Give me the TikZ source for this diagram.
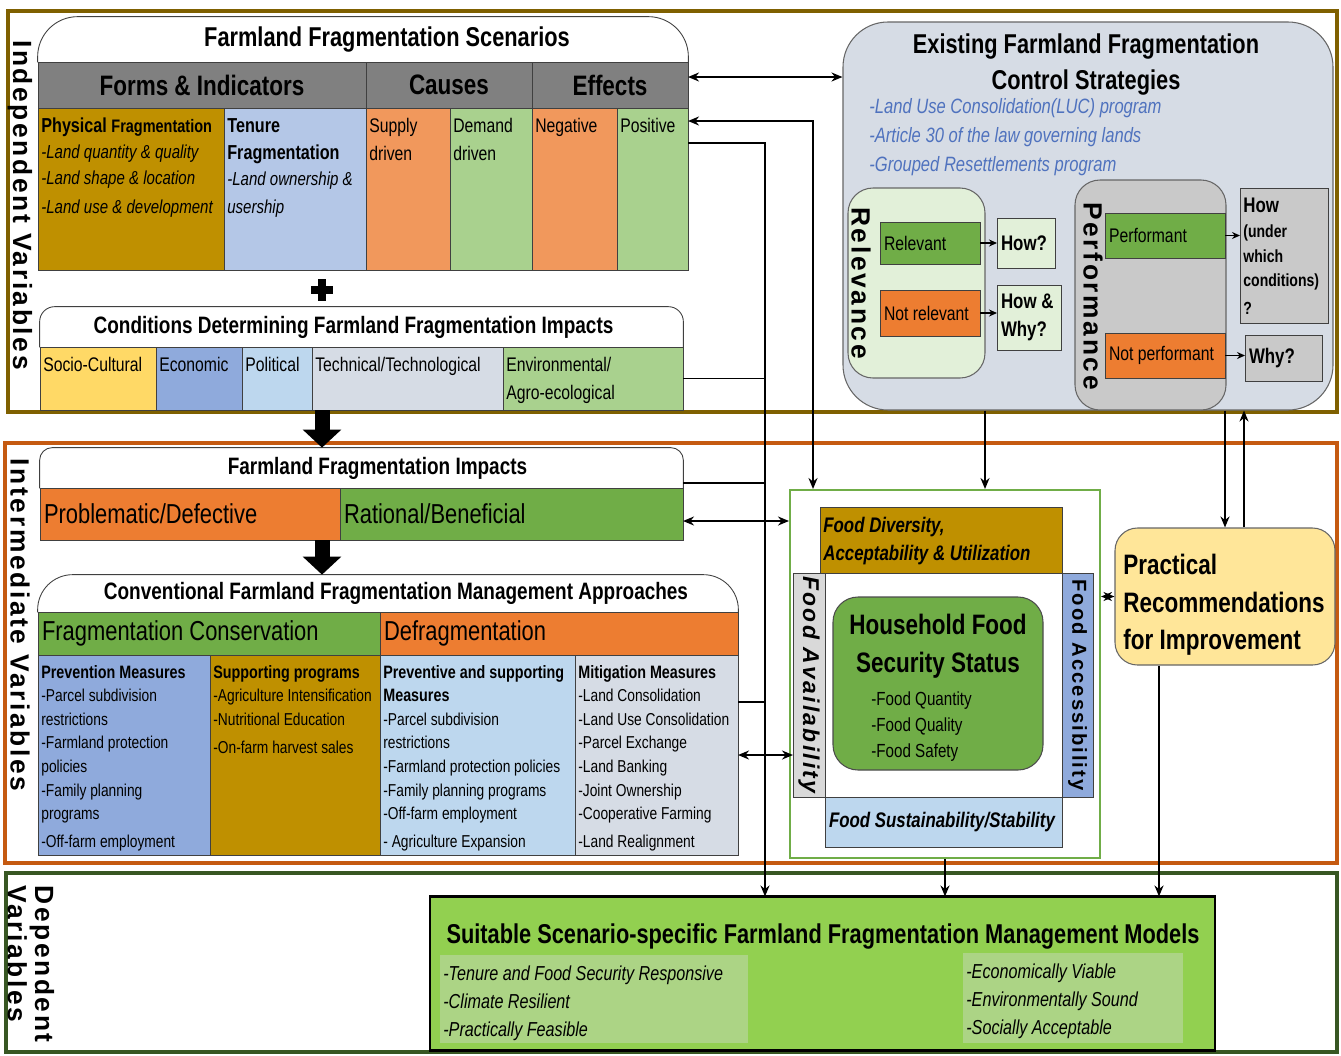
\documentclass[tikz,border=0pt]{standalone}
\usepackage{fontspec}
\setmainfont{Liberation Sans}[FakeStretch=0.8]
\newfontfamily\widefont{Liberation Sans}[LetterSpace=10]
\usetikzlibrary{arrows.meta,calc}
\hyphenpenalty=10000
\exhyphenpenalty=10000

\definecolor{indepc}{RGB}{127,96,0}
\definecolor{interc}{RGB}{197,90,17}
\definecolor{depc}{RGB}{56,87,35}
\definecolor{goldc}{RGB}{191,144,0}
\definecolor{tenurec}{RGB}{180,199,231}
\definecolor{orangec}{RGB}{237,125,49}
\definecolor{lorangec}{RGB}{241,152,92}
\definecolor{greenc}{RGB}{112,173,71}
\definecolor{lgreenc}{RGB}{169,209,142}
\definecolor{grayc}{RGB}{128,128,128}
\definecolor{yellowc}{RGB}{255,217,102}
\definecolor{bluec}{RGB}{143,170,220}
\definecolor{lbluec}{RGB}{189,215,238}
\definecolor{steelc}{RGB}{214,220,229}
\definecolor{palegreenc}{RGB}{226,240,217}
\definecolor{pgrayc}{RGB}{201,201,201}
\definecolor{dgrayc}{RGB}{217,217,217}
\definecolor{peachc}{RGB}{255,230,153}
\definecolor{limec}{RGB}{146,208,80}
\definecolor{panelc}{RGB}{172,212,133}
\definecolor{ctrlblue}{RGB}{79,114,190}

\def\unitpx{0.02cm}
\newlength\cellw
\newcommand{\fsz}[2]{\fontsize{#1}{#2}\selectfont}
% cell with its text centred (or left, with lefttext)
\newcommand{\cellc}[7]{%
 \setlength\cellw{\dimexpr 0.02cm*(#4-8)\relax}%
 \node[cell,#6,minimum width=#4*\unitpx,minimum height=#5*\unitpx] (#1) at ({#2+#4/2},{#3+#5/2}) {#7};%
}
% cell with its text in the top left corner
\newcommand{\cellt}[7]{%
 \setlength\cellw{\dimexpr 0.02cm*(#4-7)\relax}%
 \node[cell,#6,minimum width=#4*\unitpx,minimum height=#5*\unitpx] (#1) at ({#2+#4/2},{#3+#5/2}) {};%
 \node[celltext,text width=\cellw] (#1-t) at (#1.north west) {#7};%
}
% title row with rounded top corners
\newcommand{\titlebox}[8]{%
 \node[minimum width=#4*\unitpx,minimum height=#5*\unitpx,inner sep=0pt] (#1) at ({#2+#4/2},{#3+#5/2}) {};%
 \draw[cellline,rounded corners=#6] (#1.south west) -- (#1.north west) -- (#1.north east) -- (#1.south east);%
 \node[titletext,xshift=#7*\unitpx] (#1-t) at (#1) {#8};%
}

\tikzset{
 cell/.style={draw=black!75, line width=0.5pt, inner sep=0pt, outer sep=0pt, font=\fsz{11.2}{16}},
 cellline/.style={draw=black!75, line width=0.5pt},
 celltext/.style={anchor=north west, align=flush left, inner xsep=0.06cm, inner ysep=0.2cm, font=\fsz{11.2}{16}},
 lefttext/.style={align=flush left, text width=\cellw},
 header/.style={fill=grayc, font=\fsz{16}{19}\bfseries},
 titletext/.style={font=\fsz{13.5}{16}\bfseries, inner sep=0pt},
 frame/.style={line width=0.08cm, inner sep=0pt},
 bandlabel/.style={rotate=-90, inner sep=0pt, font=\widefont\fsz{15}{15.5}\bfseries},
 rotlabel/.style={rotate=-90, inner sep=0pt, font=\widefont\fsz{15}{17}\bfseries},
 roundbox/.style={draw=black!60, line width=0.6pt, inner sep=0pt},
 bus/.style={line width=1.1pt},
 conn/.style={line width=1.1pt, -{Stealth[length=0.22cm,width=0.18cm]}},
 dconn/.style={line width=1.1pt, {Stealth[length=0.22cm,width=0.18cm]}-{Stealth[length=0.22cm,width=0.18cm]}},
 sconn/.style={line width=1pt, -{Stealth[length=0.16cm,width=0.14cm]}},
 fat/.style={line width=0.3cm, -{Triangle[length=0.36cm,width=0.75cm]}},
}

\begin{document}
\begin{tikzpicture}[x=0.02cm,y=-0.02cm]
\fill[white] (0,0) rectangle (1341,1055);
\useasboundingbox (0,0) rectangle (1341,1055);

% variable bands
\node[frame,draw=indepc,minimum width=1329*\unitpx,minimum height=401*\unitpx] (indep) at (672.5,211.5) {};
\node[frame,draw=interc,minimum width=1332*\unitpx,minimum height=420*\unitpx] (inter) at (671,653) {};
\node[frame,draw=depc,minimum width=1331*\unitpx,minimum height=179*\unitpx] (dep) at (671.5,962.5) {};
\node[bandlabel] (indep-l) at (20,205) {Independent Variables};
\node[bandlabel] (inter-l) at (20,625) {Intermediate Variables};
\node[bandlabel,anchor=west,align=left] (dep-l) at (31,885) {Dependent\\Variables};

% scenarios
\titlebox{scen}{38}{17}{650}{45}{0.8cm}{24}{\fsz{15.5}{18}Farmland Fragmentation Scenarios}
\cellc{formsH}{38}{62}{328}{46}{header}{Forms \& Indicators}
\cellc{causesH}{366}{62}{166}{46}{header}{Causes}
\cellc{effectsH}{532}{62}{156}{46}{header}{Effects}
\cellt{phys}{38}{108}{186}{162}{fill=goldc}{{\bfseries\fsz{11.5}{14.8}Physical \fsz{10.3}{14.8}Fragmentation}\\\itshape\fsz{10.7}{14.8}-Land quantity \& quality\\-Land shape \& location\\-Land use \& development}
\cellt{tenure}{224}{108}{142}{162}{fill=tenurec}{\bfseries\fsz{11.5}{15.5}Tenure\\Fragmentation\\\mdseries\itshape\fsz{10.7}{15}-Land ownership \&\\usership}
\cellt{supply}{366}{108}{84}{162}{fill=lorangec}{Supply\\driven}
\cellt{demand}{450}{108}{82}{162}{fill=lgreenc}{Demand\\driven}
\cellt{negative}{532}{108}{85}{162}{fill=lorangec}{Negative}
\cellt{positive}{617}{108}{71}{162}{fill=lgreenc}{Positive}

\coordinate (plus) at (322,290);
\fill ($(plus)+(-11,-4)$) rectangle ($(plus)+(11,4)$);
\fill ($(plus)+(-4,-11)$) rectangle ($(plus)+(4,11)$);

% conditions
\titlebox{cond}{40}{307}{643}{40}{0.3cm}{-8}{Conditions Determining Farmland Fragmentation Impacts}
\cellt{socio}{40}{347}{116}{63}{fill=yellowc}{Socio-Cultural}
\cellt{econ}{156}{347}{86}{63}{fill=bluec}{Economic}
\cellt{polit}{242}{347}{70}{63}{fill=lbluec}{Political}
\cellt{tech}{312}{347}{191}{63}{fill=steelc}{Technical/Technological}
\cellt{env}{503}{347}{180}{63}{fill=lgreenc}{Environmental/\\Agro-ecological}

% impacts
\titlebox{imp}{40}{448}{643}{40}{0.25cm}{16}{Farmland Fragmentation Impacts}
\cellc{problem}{40}{488}{300}{52}{fill=orangec,lefttext,font=\fsz{15.6}{18}}{Problematic/Defective}
\cellc{rational}{340}{488}{343}{52}{fill=greenc,lefttext,font=\fsz{15.6}{18}}{Rational/Beneficial}
\draw[fat] (plus |- socio.south) -- (plus |- imp.north);

% management approaches
\titlebox{conv}{38}{575}{700}{37}{0.7cm}{8}{Conventional Farmland Fragmentation Management Approaches}
\draw[fat] (plus |- problem.south) -- (plus |- conv.north);
\cellc{fragc}{38}{612}{342}{43}{fill=greenc,lefttext,font=\fsz{15.6}{18}}{Fragmentation Conservation}
\cellc{defrag}{380}{612}{358}{43}{fill=orangec,lefttext,font=\fsz{15.6}{18}}{Defragmentation}
\cellt{prev}{38}{655}{172}{200}{fill=bluec}{\fsz{9.8}{13.4}{\bfseries\fsz{10.2}{13.4}Prevention Measures}\\-Parcel subdivision\\restrictions\\-Farmland protection\\policies\\-Family planning\\programs\\-Off-farm employment}
\cellt{supp}{210}{655}{170}{200}{fill=goldc}{\fsz{9.8}{13.4}{\bfseries\fsz{10.2}{13.4}Supporting programs}\\-Agriculture Intensification\\-Nutritional Education\\-On-farm harvest sales}
\cellt{prevsup}{380}{655}{195}{200}{fill=lbluec}{\fsz{9.8}{13.4}{\bfseries\fsz{10.2}{13.4}Preventive and supporting\\Measures}\\-Parcel subdivision\\restrictions\\-Farmland protection policies\\-Family planning programs\\-Off-farm employment\\- Agriculture Expansion}
\cellt{mitig}{575}{655}{163}{200}{fill=steelc}{\fsz{9.8}{13.4}{\bfseries\fsz{10.2}{13.4}Mitigation Measures}\\-Land Consolidation\\-Land Use Consolidation\\-Parcel Exchange\\-Land Banking\\-Joint Ownership\\-Cooperative Farming\\-Land Realignment}

% control strategies
\node[roundbox,fill=steelc,rounded corners=0.9cm,minimum width=490*\unitpx,minimum height=388*\unitpx] (ctrl) at (1088,216) {};
\node[font=\fsz{15.5}{20.5}\bfseries,align=center] (ctrl-t) at (1086,65) {Existing Farmland Fragmentation\\Control Strategies};
\node[anchor=north west,font=\fsz{11.8}{16.5}\itshape,text=ctrlblue,align=left,inner sep=0pt] (ctrl-l) at (869,98) {-Land Use Consolidation(LUC) program\\-Article 30 of the law governing lands\\-Grouped Resettlements program};
\node[roundbox,fill=palegreenc,rounded corners=0.5cm,minimum width=137*\unitpx,minimum height=190*\unitpx] (rel) at (916.5,283) {};
\node[rotlabel] (rel-l) at (861,283) {Relevance};
\cellc{relv}{880}{222}{100}{42}{fill=greenc,lefttext}{Relevant}
\cellc{notrel}{880}{290}{100}{46}{fill=orangec,lefttext}{Not relevant}
\cellc{how1}{997}{218}{58}{50}{fill=palegreenc,lefttext,font=\fsz{12}{16}\bfseries}{How?}
\cellc{how2}{997}{285}{64}{65}{fill=palegreenc,lefttext,font=\fsz{12}{16}\bfseries}{How \&\\Why?}
\node[roundbox,fill=pgrayc,rounded corners=0.5cm,minimum width=151*\unitpx,minimum height=230*\unitpx] (perf) at (1150.5,295) {};
\node[rotlabel] (perf-l) at (1093,296) {Performance};
\cellc{perfm}{1105}{213}{120}{45}{fill=greenc,lefttext}{Performant}
\cellc{notperf}{1105}{333}{120}{45}{fill=orangec,lefttext}{Not performant}
\cellt{howc}{1240}{188}{88}{135}{fill=pgrayc}{\bfseries\fsz{12}{14}How\\\fsz{10}{14}(under\\which\\conditions)\\?}
\cellc{why}{1245}{335}{77}{46}{fill=pgrayc,lefttext,font=\fsz{12}{16}\bfseries}{Why?}
\draw[sconn] (relv.east) -- (how1.west |- relv.east);
\draw[sconn] (notrel.east) -- (how2.west |- notrel.east);
\draw[sconn] (perfm.east) -- (howc.west |- perfm.east);
\draw[sconn] (notperf.east) -- (why.west |- notperf.east);

% household food security
\node[draw=greenc,line width=0.04cm,fill=white,minimum width=310*\unitpx,minimum height=368*\unitpx,inner sep=0pt] (fsbox) at (945,674) {};
\cellt{fdiv}{820}{507}{242}{66}{fill=goldc}{\bfseries\itshape\fsz{12}{16}Food Diversity,\\Acceptability \& Utilization}
\cellc{favail}{793}{573}{32}{224}{fill=dgrayc}{}
\node[rotlabel,font=\widefont\fsz{13}{15}\bfseries\itshape] (favail-t) at (favail) {Food Availability};
\cellc{fcore}{825}{573}{237}{224}{fill=white}{}
\cellc{faccess}{1062}{573}{31}{224}{fill=bluec}{}
\node[rotlabel,font=\widefont\fsz{11.5}{14}\bfseries] (faccess-t) at (faccess) {Food Accessibility};
\cellc{fsust}{825}{797}{237}{50}{fill=lbluec,lefttext,font=\fsz{12}{15}\bfseries\itshape}{Food Sustainability/Stability}
\node[roundbox,fill=greenc,draw=black!70,rounded corners=0.5cm,minimum width=210*\unitpx,minimum height=173*\unitpx] (hfss) at (938,683.5) {};
\node[font=\fsz{16}{21.6}\bfseries,align=center] (hfss-t) at (938,646) {Household Food\\Security Status};
\node[anchor=north west,font=\fsz{10.8}{15},align=left,inner sep=0pt] (hfss-l) at (871,691) {-Food Quantity\\-Food Quality\\-Food Safety};

% recommendations
\node[roundbox,fill=peachc,rounded corners=0.45cm,minimum width=220*\unitpx,minimum height=137*\unitpx] (prac) at (1225,596.5) {};
\node[anchor=west,font=\fsz{16}{21.3}\bfseries,align=left,inner sep=0pt] (prac-t) at (1123,605) {Practical\\Recommendations\\for Improvement};

% management models
\node[draw=black,line width=0.6pt,fill=limec,minimum width=785*\unitpx,minimum height=153*\unitpx,inner sep=0pt] (suit) at (822.5,973.5) {};
\draw[line width=0.06cm] (suit.north west) -- (suit.north east);
\draw[line width=0.06cm] (suit.south west) -- (suit.south east);
\node[font=\fsz{15.5}{18}\bfseries] (suit-t) at (823,937) {Suitable Scenario-specific Farmland Fragmentation Management Models};
\cellt{suitL}{440}{955}{308}{88}{fill=panelc,draw=none}{\itshape\fsz{11.5}{16}-Tenure and Food Security Responsive\\-Climate Resilient\\-Practically Feasible}
\cellt{suitR}{963}{953}{220}{90}{fill=panelc,draw=none}{\itshape\fsz{11.5}{16}-Economically Viable\\-Environmentally Sound\\-Socially Acceptable}

% connectors
\coordinate (effA) at ($(effectsH.east)+(0,-8)$);
\coordinate (posA) at ($(positive.north east)+(0,13)$);
\coordinate (posB) at ($(positive.north east)+(0,35)$);
\coordinate (impA) at ($(rational.north east)+(0,-5)$);
\coordinate (ratA) at ($(rational.east)+(0,7)$);
\coordinate (mitA) at ($(mitig.north east)+(0,47)$);
\coordinate (busA) at (813,0);
\coordinate (busB) at (765,0);
\coordinate (ctrlA) at (985,0);
\coordinate (ctrlB) at (1225,0);
\coordinate (ctrlC) at (1244,0);
\coordinate (pracA) at (1159,0);
\draw[dconn] (effA) -- (effA -| ctrl.west);
\draw[dconn] (posA) -- (posA -| busA) -- (busA |- fsbox.north);
\draw[conn] (posB) -- (posB -| busB) -- (busB |- suit.north);
\draw[bus] (env.east) -- (env.east -| busB);
\draw[bus] (impA) -- (impA -| busB);
\draw[bus] (mitA) -- (mitA -| busB);
\draw[dconn] (ratA) -- (ratA -| fsbox.west);
\draw[dconn] (mitig.east) -- (mitig.east -| favail.west);
\draw[conn] (ctrlA |- ctrl.south) -- (ctrlA |- fsbox.north);
\draw[conn] (ctrlB |- ctrl.south) -- (ctrlB |- prac.north);
\draw[conn] (ctrlC |- prac.north) -- (ctrlC |- ctrl.south);
\draw[dconn] (prac.west) -- (prac.west -| fsbox.east);
\draw[conn] (fsbox.south) -- (fsbox.south |- suit.north);
\draw[conn] (pracA |- prac.south) -- (pracA |- suit.north);
\end{tikzpicture}
\end{document}
